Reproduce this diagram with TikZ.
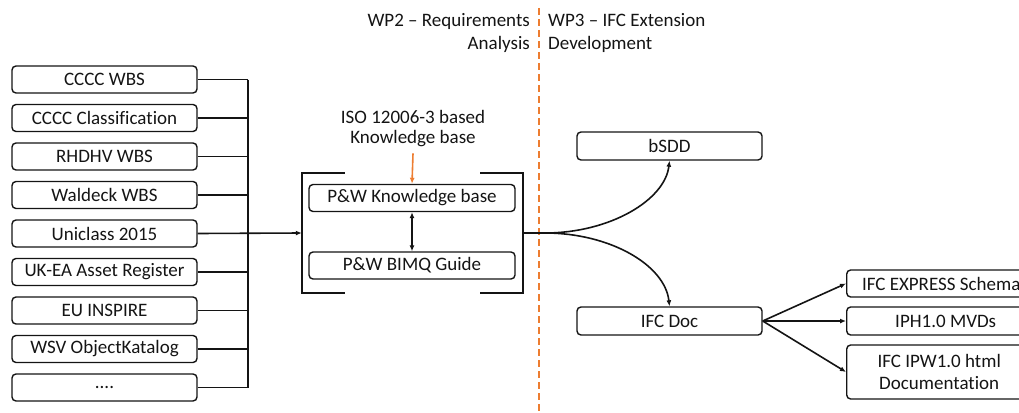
\documentclass[tikz,border=0pt]{standalone}
\usepackage{fontspec}
\setmainfont[Ligatures=NoCommon]{Carlito}
\usetikzlibrary{arrows.meta}
\definecolor{wporange}{RGB}{237,125,49}
\definecolor{ink}{RGB}{20,20,20}
\begin{document}
\begin{tikzpicture}[x=1pt,y=-1pt,
  box/.style={draw=ink,line width=1.4pt,rounded corners=4pt,inner sep=0pt,font=\fontsize{19}{22}\selectfont,text=ink},
  lbox/.style={box,minimum width=185pt,minimum height=27pt},
  cbox/.style={box,minimum width=206pt,minimum height=27pt},
  rbox/.style={box,minimum width=185pt,minimum height=28pt},
  conn/.style={draw=ink,line width=1.6pt},
  arr/.style={conn,-{Latex[length=6pt,width=5pt]}},
  lbl/.style={font=\fontsize{19}{22}\selectfont,text=ink,inner sep=0pt},
  brk/.style={draw=ink,line width=2.4pt}]
\useasboundingbox (0,0) rectangle (1019,412);
% left boxes
\node[lbox] (b1) at (104.5,79.5) {CCCC WBS};
\node[lbox] (b2) at (104.5,118) {CCCC Classification};
\node[lbox] (b3) at (104.5,156.5) {RHDHV WBS};
\node[lbox] (b4) at (104.5,195) {Waldeck WBS};
\node[lbox] (b5) at (104.5,233.5) {Uniclass 2015};
\node[lbox] (b6) at (104.5,272) {UK-EA Asset Register};
\node[lbox] (b7) at (104.5,310.5) {EU INSPIRE};
\node[lbox] (b8) at (104.5,349) {WSV ObjectKatalog};
\node[lbox] (b9) at (104.5,387.5) {....};
\coordinate (bus) at (248,0);
\foreach \i in {1,2,3,4,6,7,8,9}{\draw[conn] (b\i.east) -- (b\i.east -| bus);}
\draw[conn] (b1.east -| bus) -- (b9.east -| bus);
% group with brackets
\node[minimum width=221pt,minimum height=120pt,inner sep=0pt] (grp) at (412.5,233) {};
\draw[brk] ([xshift=43pt]grp.north west) -- (grp.north west) -- (grp.south west) -- ([xshift=43pt]grp.south west);
\draw[brk] ([xshift=-43pt]grp.north east) -- (grp.north east) -- (grp.south east) -- ([xshift=-43pt]grp.south east);
\draw[arr] (b5.east) -- (grp.west);
\node[cbox] (kb) at (412,198) {P\&W Knowledge base};
\node[cbox] (bimq) at (412,265.5) {P\&W BIMQ Guide};
\draw[conn,{Latex[length=6pt,width=5pt]}-{Latex[length=6pt,width=5pt]}] (kb.south) -- (bimq.north);
\node[lbl,align=center] (iso) at (413,129) {ISO 12006-3 based\\[-2pt]Knowledge base};
\draw[line width=1.6pt,draw=wporange,-{Latex[length=6pt,width=5pt]}] ([yshift=-6pt]iso.south) -- (kb.north);
% WP headings
\coordinate (dtop) at (539,8);
\coordinate (dbot) at (539,412);
\draw[wporange,line width=1.6pt,dash pattern=on 7pt off 4pt] (dtop) -- (dbot);
\node[lbl,align=right,anchor=north east] (wp2) at (530,13) {WP2 – Requirements\\[1pt]Analysis};
\node[lbl,align=left,anchor=north west] (wp3) at (548,13) {WP3 – IFC Extension\\[1pt]Development};
% right side
\node[rbox] (bsdd) at (669.5,146) {bSDD};
\node[rbox] (ifcdoc) at (669.5,321) {IFC Doc};
\draw[arr] (grp.east) -- (545,233) .. controls (610,233) and (665,200) .. (bsdd.south);
\draw[arr] (grp.east) -- (545,233) .. controls (610,233) and (665,265) .. (ifcdoc.north);
\node[box,anchor=west,minimum width=180pt,minimum height=27pt] (exp) at (846,283.5) {\hspace*{9pt}IFC EXPRESS Schema\hfill};
\node[box,anchor=west,minimum width=180pt,minimum height=28pt] (mvd) at (846,321) {\hspace*{18pt}IPH1.0 MVDs\hfill};
\node[box,anchor=west,minimum width=180pt,minimum height=54pt,align=center] (html) at (846,372) {\hspace*{5pt}IFC IPW1.0 html\\[0pt]\hspace*{5pt}Documentation};
\draw[arr] (ifcdoc.east) -- (exp.west);
\draw[arr] (ifcdoc.east) -- (mvd.west);
\draw[arr] (ifcdoc.east) -- (html.west);
\end{tikzpicture}
\end{document}
